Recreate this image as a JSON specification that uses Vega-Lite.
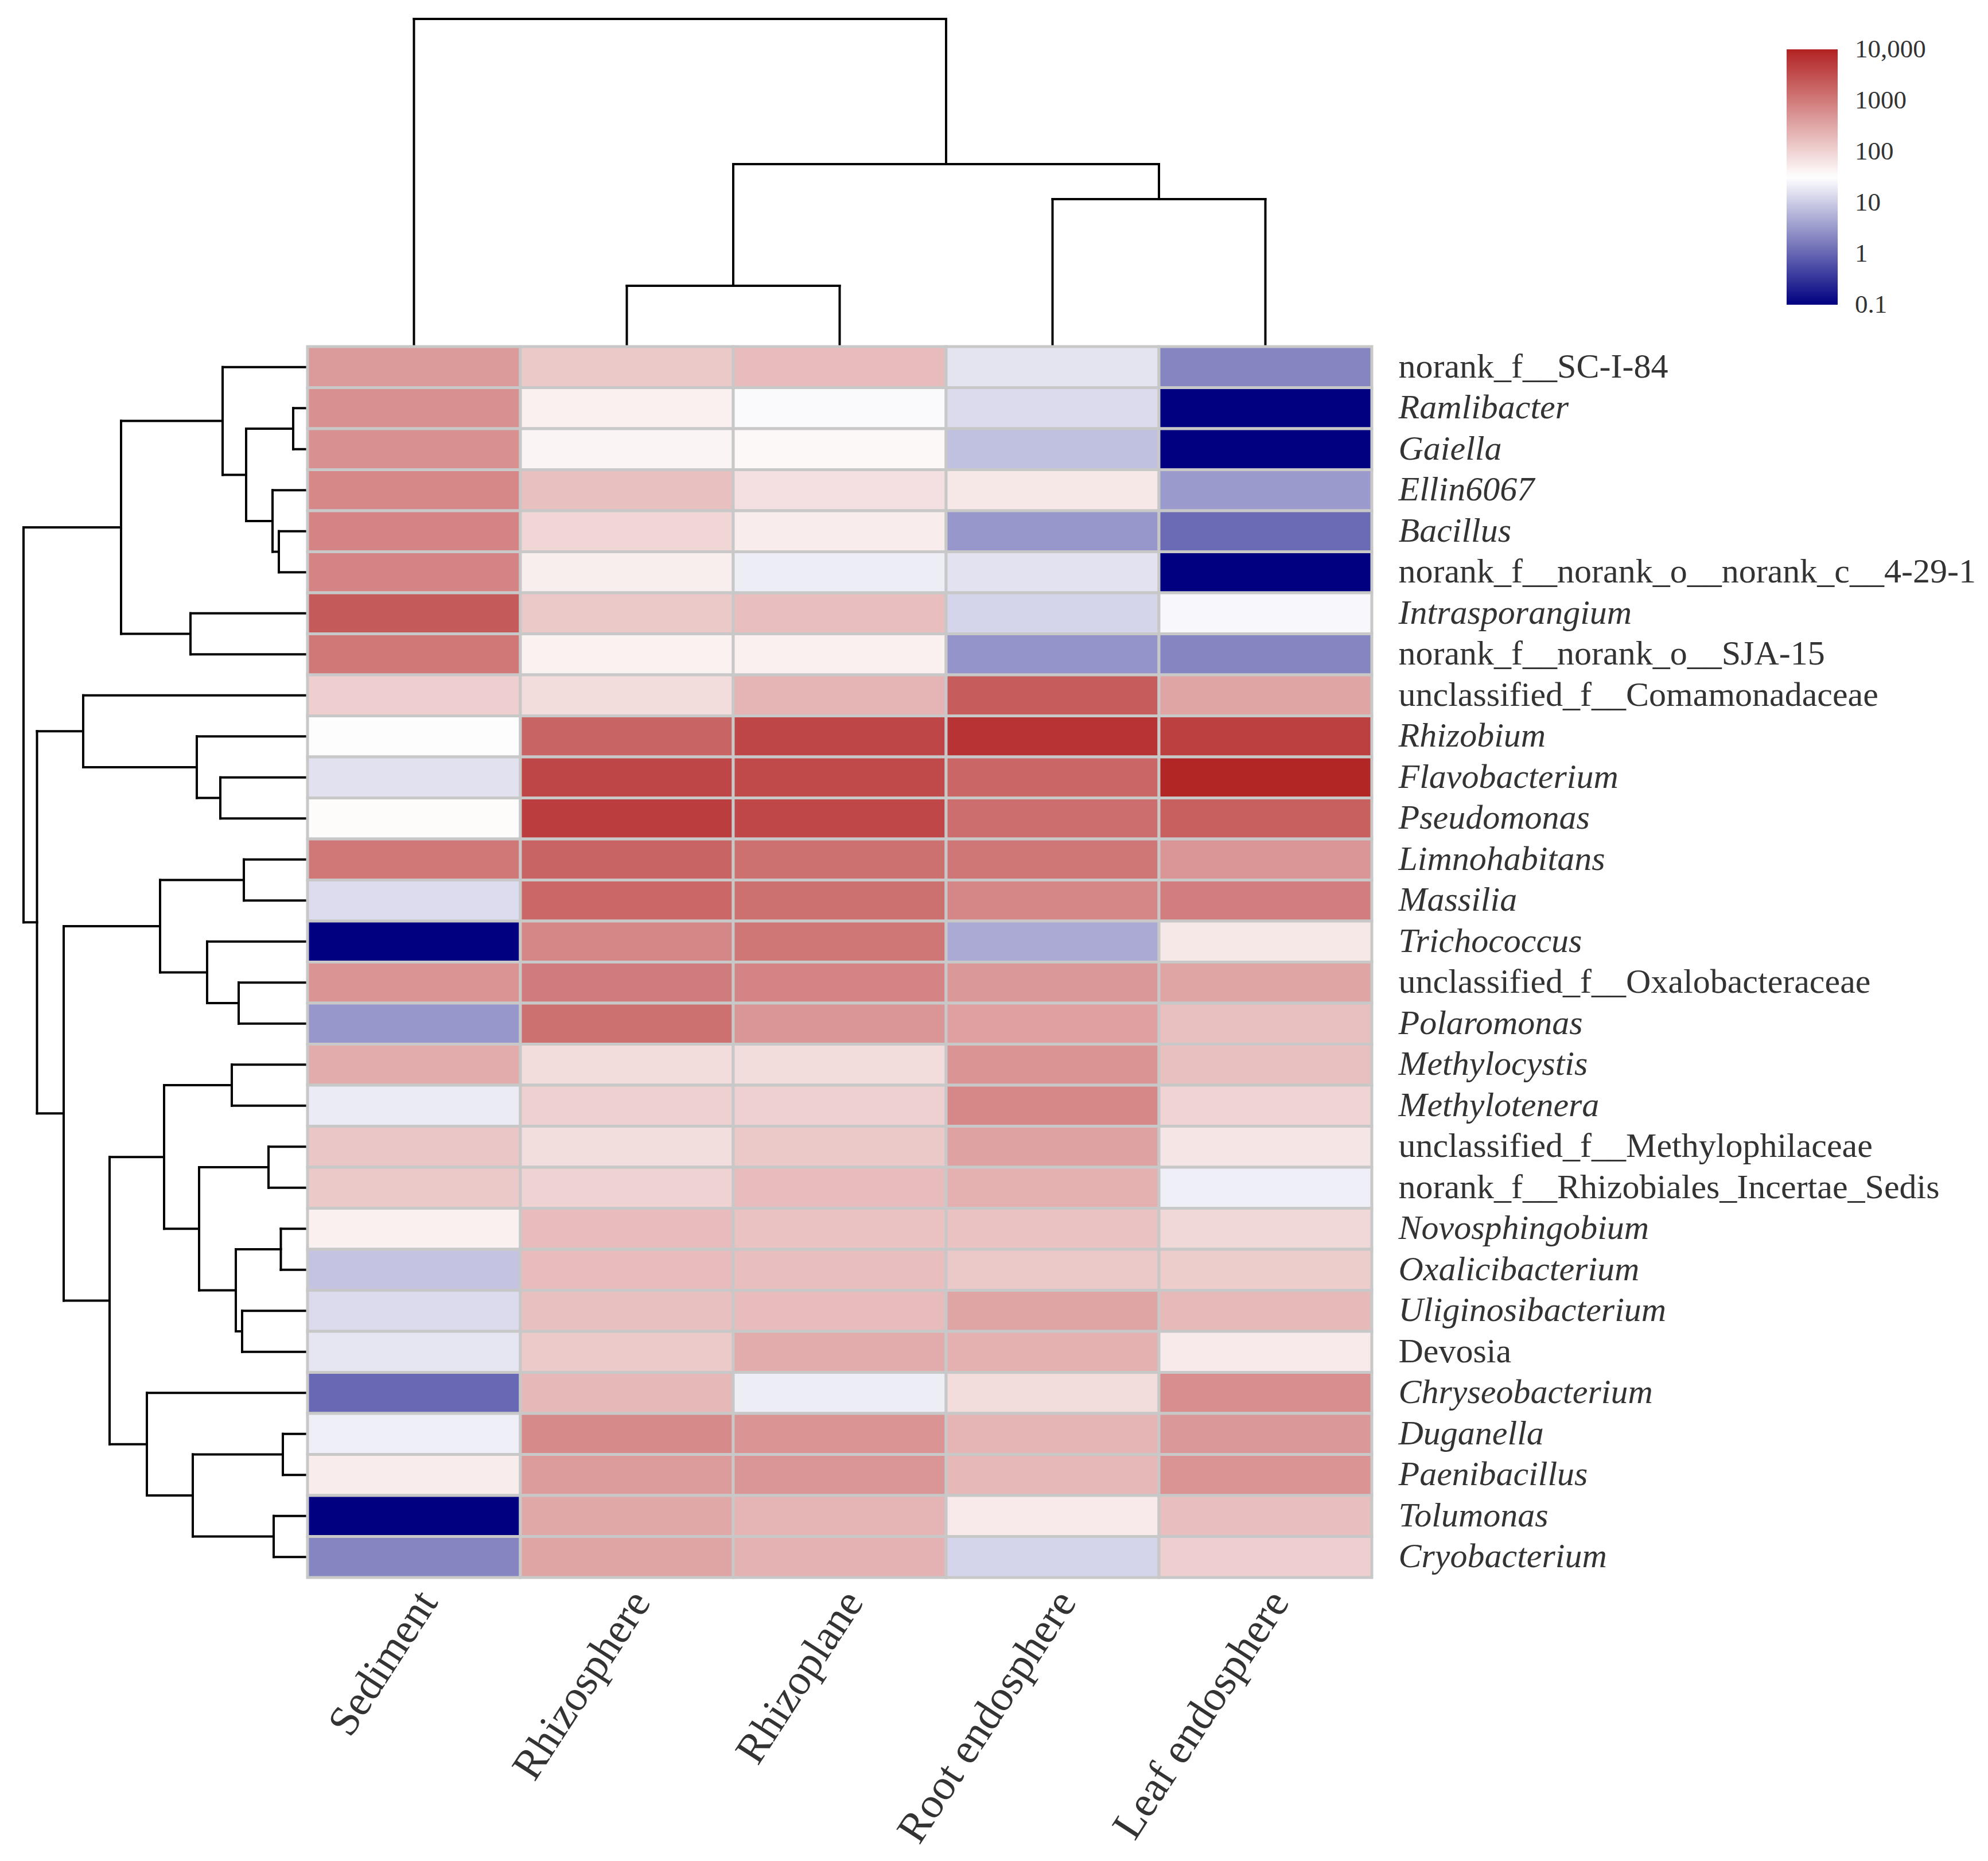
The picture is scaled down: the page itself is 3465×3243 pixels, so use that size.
{
 "$schema": "https://vega.github.io/schema/vega-lite/v6.json",
 "padding": {"left": 38, "top": 30, "right": 5, "bottom": 5},
 "background": "white",
 "config": {"view": {"stroke": null}},
 "spacing": 0,
 "columns": 2,
 "align": "each",
 "bounds": "flush",
 "datasets": {
  "topTree": [
   {"pos":0,"pos2":0,"h":0,"h2":571},
   {"pos":1,"pos2":1,"h":0,"h2":106},
   {"pos":2,"pos2":2,"h":0,"h2":106},
   {"pos":1,"pos2":2,"h":106,"h2":106},
   {"pos":3,"pos2":3,"h":0,"h2":257},
   {"pos":4,"pos2":4,"h":0,"h2":257},
   {"pos":3,"pos2":4,"h":257,"h2":257},
   {"pos":1.5,"pos2":1.5,"h":106,"h2":318},
   {"pos":3.5,"pos2":3.5,"h":257,"h2":318},
   {"pos":1.5,"pos2":3.5,"h":318,"h2":318},
   {"pos":2.5,"pos2":2.5,"h":318,"h2":571},
   {"pos":0,"pos2":2.5,"h":571,"h2":571}
  ],
  "leftTree": [
   {"h":0,"h2":25,"r":1,"r2":1},{"h":0,"h2":25,"r":2,"r2":2},{"h":25,"h2":25,"r":1,"r2":2},
   {"h":0,"h2":50,"r":4,"r2":4},{"h":0,"h2":50,"r":5,"r2":5},{"h":50,"h2":50,"r":4,"r2":5},
   {"h":0,"h2":61,"r":3,"r2":3},{"h":50,"h2":61,"r":4.5,"r2":4.5},{"h":61,"h2":61,"r":3,"r2":4.5},
   {"h":25,"h2":107,"r":1.5,"r2":1.5},{"h":61,"h2":107,"r":3.75,"r2":3.75},{"h":107,"h2":107,"r":1.5,"r2":3.75},
   {"h":0,"h2":148,"r":0,"r2":0},{"h":107,"h2":148,"r":2.625,"r2":2.625},{"h":148,"h2":148,"r":0,"r2":2.625},
   {"h":0,"h2":204,"r":6,"r2":6},{"h":0,"h2":204,"r":7,"r2":7},{"h":204,"h2":204,"r":6,"r2":7},
   {"h":148,"h2":325,"r":1.3125,"r2":1.3125},{"h":204,"h2":325,"r":6.5,"r2":6.5},{"h":325,"h2":325,"r":1.3125,"r2":6.5},
   {"h":0,"h2":152,"r":10,"r2":10},{"h":0,"h2":152,"r":11,"r2":11},{"h":152,"h2":152,"r":10,"r2":11},
   {"h":0,"h2":193,"r":9,"r2":9},{"h":152,"h2":193,"r":10.5,"r2":10.5},{"h":193,"h2":193,"r":9,"r2":10.5},
   {"h":0,"h2":391,"r":8,"r2":8},{"h":193,"h2":391,"r":9.75,"r2":9.75},{"h":391,"h2":391,"r":8,"r2":9.75},
   {"h":0,"h2":111,"r":12,"r2":12},{"h":0,"h2":111,"r":13,"r2":13},{"h":111,"h2":111,"r":12,"r2":13},
   {"h":0,"h2":120,"r":15,"r2":15},{"h":0,"h2":120,"r":16,"r2":16},{"h":120,"h2":120,"r":15,"r2":16},
   {"h":0,"h2":175,"r":14,"r2":14},{"h":120,"h2":175,"r":15.5,"r2":15.5},{"h":175,"h2":175,"r":14,"r2":15.5},
   {"h":111,"h2":257,"r":12.5,"r2":12.5},{"h":175,"h2":257,"r":14.75,"r2":14.75},{"h":257,"h2":257,"r":12.5,"r2":14.75},
   {"h":0,"h2":132,"r":17,"r2":17},{"h":0,"h2":132,"r":18,"r2":18},{"h":132,"h2":132,"r":17,"r2":18},
   {"h":0,"h2":68,"r":19,"r2":19},{"h":0,"h2":68,"r":20,"r2":20},{"h":68,"h2":68,"r":19,"r2":20},
   {"h":0,"h2":46.5,"r":21,"r2":21},{"h":0,"h2":46.5,"r":22,"r2":22},{"h":46.5,"h2":46.5,"r":21,"r2":22},
   {"h":0,"h2":114,"r":23,"r2":23},{"h":0,"h2":114,"r":24,"r2":24},{"h":114,"h2":114,"r":23,"r2":24},
   {"h":46.5,"h2":125,"r":21.5,"r2":21.5},{"h":114,"h2":125,"r":23.5,"r2":23.5},{"h":125,"h2":125,"r":21.5,"r2":23.5},
   {"h":68,"h2":189,"r":19.5,"r2":19.5},{"h":125,"h2":189,"r":22.5,"r2":22.5},{"h":189,"h2":189,"r":19.5,"r2":22.5},
   {"h":132,"h2":250,"r":17.5,"r2":17.5},{"h":189,"h2":250,"r":21,"r2":21},{"h":250,"h2":250,"r":17.5,"r2":21},
   {"h":0,"h2":43,"r":26,"r2":26},{"h":0,"h2":43,"r":27,"r2":27},{"h":43,"h2":43,"r":26,"r2":27},
   {"h":0,"h2":59,"r":28,"r2":28},{"h":0,"h2":59,"r":29,"r2":29},{"h":59,"h2":59,"r":28,"r2":29},
   {"h":43,"h2":200,"r":26.5,"r2":26.5},{"h":59,"h2":200,"r":28.5,"r2":28.5},{"h":200,"h2":200,"r":26.5,"r2":28.5},
   {"h":0,"h2":280,"r":25,"r2":25},{"h":200,"h2":280,"r":27.5,"r2":27.5},{"h":280,"h2":280,"r":25,"r2":27.5},
   {"h":250,"h2":345,"r":19.25,"r2":19.25},{"h":280,"h2":345,"r":26.25,"r2":26.25},{"h":345,"h2":345,"r":19.25,"r2":26.25},
   {"h":257,"h2":425,"r":13.625,"r2":13.625},{"h":345,"h2":425,"r":22.75,"r2":22.75},{"h":425,"h2":425,"r":13.625,"r2":22.75},
   {"h":391,"h2":471.5,"r":8.875,"r2":8.875},{"h":425,"h2":471.5,"r":18.1875,"r2":18.1875},{"h":471.5,"h2":471.5,"r":8.875,"r2":18.1875},
   {"h":325,"h2":495,"r":3.90625,"r2":3.90625},{"h":471.5,"h2":495,"r":13.53125,"r2":13.53125},{"h":495,"h2":495,"r":3.90625,"r2":13.53125}
  ],
  "cells": [
   {"taxon":"norank_f__SC-I-84","sample":"Sediment","value":430},{"taxon":"norank_f__SC-I-84","sample":"Rhizosphere","value":130},{"taxon":"norank_f__SC-I-84","sample":"Rhizoplane","value":180},{"taxon":"norank_f__SC-I-84","sample":"Root endosphere","value":17},{"taxon":"norank_f__SC-I-84","sample":"Leaf endosphere","value":2},
   {"taxon":"Ramlibacter","sample":"Sediment","value":570},{"taxon":"Ramlibacter","sample":"Rhizosphere","value":47},{"taxon":"Ramlibacter","sample":"Rhizoplane","value":28},{"taxon":"Ramlibacter","sample":"Root endosphere","value":14},{"taxon":"Ramlibacter","sample":"Leaf endosphere","value":0.1},
   {"taxon":"Gaiella","sample":"Sediment","value":570},{"taxon":"Gaiella","sample":"Rhizosphere","value":42},{"taxon":"Gaiella","sample":"Rhizoplane","value":38},{"taxon":"Gaiella","sample":"Root endosphere","value":7.6},{"taxon":"Gaiella","sample":"Leaf endosphere","value":0.1},
   {"taxon":"Ellin6067","sample":"Sediment","value":700},{"taxon":"Ellin6067","sample":"Rhizosphere","value":163},{"taxon":"Ellin6067","sample":"Rhizoplane","value":70},{"taxon":"Ellin6067","sample":"Root endosphere","value":58},{"taxon":"Ellin6067","sample":"Leaf endosphere","value":3.2},
   {"taxon":"Bacillus","sample":"Sediment","value":780},{"taxon":"Bacillus","sample":"Rhizosphere","value":92},{"taxon":"Bacillus","sample":"Rhizoplane","value":52},{"taxon":"Bacillus","sample":"Root endosphere","value":3},{"taxon":"Bacillus","sample":"Leaf endosphere","value":1.1},
   {"taxon":"norank_f__norank_o__norank_c__4-29-1","sample":"Sediment","value":780},{"taxon":"norank_f__norank_o__norank_c__4-29-1","sample":"Rhizosphere","value":49},{"taxon":"norank_f__norank_o__norank_c__4-29-1","sample":"Rhizoplane","value":21},{"taxon":"norank_f__norank_o__norank_c__4-29-1","sample":"Root endosphere","value":16.5},{"taxon":"norank_f__norank_o__norank_c__4-29-1","sample":"Leaf endosphere","value":0.1},
   {"taxon":"Intrasporangium","sample":"Sediment","value":2340},{"taxon":"Intrasporangium","sample":"Rhizosphere","value":130},{"taxon":"Intrasporangium","sample":"Rhizoplane","value":171},{"taxon":"Intrasporangium","sample":"Root endosphere","value":12},{"taxon":"Intrasporangium","sample":"Leaf endosphere","value":27},
   {"taxon":"norank_f__norank_o__SJA-15","sample":"Sediment","value":1070},{"taxon":"norank_f__norank_o__SJA-15","sample":"Rhizosphere","value":45},{"taxon":"norank_f__norank_o__SJA-15","sample":"Rhizoplane","value":47},{"taxon":"norank_f__norank_o__SJA-15","sample":"Root endosphere","value":2.8},{"taxon":"norank_f__norank_o__SJA-15","sample":"Leaf endosphere","value":2},
   {"taxon":"unclassified_f__Comamonadaceae","sample":"Sediment","value":113},{"taxon":"unclassified_f__Comamonadaceae","sample":"Rhizosphere","value":79},{"taxon":"unclassified_f__Comamonadaceae","sample":"Rhizoplane","value":224},{"taxon":"unclassified_f__Comamonadaceae","sample":"Root endosphere","value":2200},{"taxon":"unclassified_f__Comamonadaceae","sample":"Leaf endosphere","value":340},
   {"taxon":"Rhizobium","sample":"Sediment","value":33},{"taxon":"Rhizobium","sample":"Rhizosphere","value":1780},{"taxon":"Rhizobium","sample":"Rhizoplane","value":3900},{"taxon":"Rhizobium","sample":"Root endosphere","value":6300},{"taxon":"Rhizobium","sample":"Leaf endosphere","value":4570},
   {"taxon":"Flavobacterium","sample":"Sediment","value":16},{"taxon":"Flavobacterium","sample":"Rhizosphere","value":3900},{"taxon":"Flavobacterium","sample":"Rhizoplane","value":3500},{"taxon":"Flavobacterium","sample":"Root endosphere","value":1700},{"taxon":"Flavobacterium","sample":"Leaf endosphere","value":9000},
   {"taxon":"Pseudomonas","sample":"Sediment","value":35},{"taxon":"Pseudomonas","sample":"Rhizosphere","value":5000},{"taxon":"Pseudomonas","sample":"Rhizoplane","value":3800},{"taxon":"Pseudomonas","sample":"Root endosphere","value":1380},{"taxon":"Pseudomonas","sample":"Leaf endosphere","value":2000},
   {"taxon":"Limnohabitans","sample":"Sediment","value":1070},{"taxon":"Limnohabitans","sample":"Rhizosphere","value":1780},{"taxon":"Limnohabitans","sample":"Rhizoplane","value":1310},{"taxon":"Limnohabitans","sample":"Root endosphere","value":1120},{"taxon":"Limnohabitans","sample":"Leaf endosphere","value":490},
   {"taxon":"Massilia","sample":"Sediment","value":14.5},{"taxon":"Massilia","sample":"Rhizosphere","value":1620},{"taxon":"Massilia","sample":"Rhizoplane","value":1310},{"taxon":"Massilia","sample":"Root endosphere","value":740},{"taxon":"Massilia","sample":"Leaf endosphere","value":910},
   {"taxon":"Trichococcus","sample":"Sediment","value":0.1},{"taxon":"Trichococcus","sample":"Rhizosphere","value":740},{"taxon":"Trichococcus","sample":"Rhizoplane","value":1120},{"taxon":"Trichococcus","sample":"Root endosphere","value":4.6},{"taxon":"Trichococcus","sample":"Leaf endosphere","value":58},
   {"taxon":"unclassified_f__Oxalobacteraceae","sample":"Sediment","value":510},{"taxon":"unclassified_f__Oxalobacteraceae","sample":"Rhizosphere","value":960},{"taxon":"unclassified_f__Oxalobacteraceae","sample":"Rhizoplane","value":780},{"taxon":"unclassified_f__Oxalobacteraceae","sample":"Root endosphere","value":460},{"taxon":"unclassified_f__Oxalobacteraceae","sample":"Leaf endosphere","value":340},
   {"taxon":"Polaromonas","sample":"Sediment","value":3},{"taxon":"Polaromonas","sample":"Rhizosphere","value":1310},{"taxon":"Polaromonas","sample":"Rhizoplane","value":490},{"taxon":"Polaromonas","sample":"Root endosphere","value":375},{"taxon":"Polaromonas","sample":"Leaf endosphere","value":163},
   {"taxon":"Methylocystis","sample":"Sediment","value":273},{"taxon":"Methylocystis","sample":"Rhizosphere","value":79},{"taxon":"Methylocystis","sample":"Rhizoplane","value":79},{"taxon":"Methylocystis","sample":"Root endosphere","value":510},{"taxon":"Methylocystis","sample":"Leaf endosphere","value":163},
   {"taxon":"Methylotenera","sample":"Sediment","value":20},{"taxon":"Methylotenera","sample":"Rhizosphere","value":107},{"taxon":"Methylotenera","sample":"Rhizoplane","value":107},{"taxon":"Methylotenera","sample":"Root endosphere","value":700},{"taxon":"Methylotenera","sample":"Leaf endosphere","value":97},
   {"taxon":"unclassified_f__Methylophilaceae","sample":"Sediment","value":140},{"taxon":"unclassified_f__Methylophilaceae","sample":"Rhizosphere","value":75},{"taxon":"unclassified_f__Methylophilaceae","sample":"Rhizoplane","value":130},{"taxon":"unclassified_f__Methylophilaceae","sample":"Root endosphere","value":355},{"taxon":"unclassified_f__Methylophilaceae","sample":"Leaf endosphere","value":63},
   {"taxon":"norank_f__Rhizobiales_Incertae_Sedis","sample":"Sediment","value":130},{"taxon":"norank_f__Rhizobiales_Incertae_Sedis","sample":"Rhizosphere","value":102},{"taxon":"norank_f__Rhizobiales_Incertae_Sedis","sample":"Rhizoplane","value":180},{"taxon":"norank_f__Rhizobiales_Incertae_Sedis","sample":"Root endosphere","value":246},{"taxon":"norank_f__Rhizobiales_Incertae_Sedis","sample":"Leaf endosphere","value":22},
   {"taxon":"Novosphingobium","sample":"Sediment","value":47},{"taxon":"Novosphingobium","sample":"Rhizosphere","value":180},{"taxon":"Novosphingobium","sample":"Rhizoplane","value":155},{"taxon":"Novosphingobium","sample":"Root endosphere","value":155},{"taxon":"Novosphingobium","sample":"Leaf endosphere","value":88},
   {"taxon":"Oxalicibacterium","sample":"Sediment","value":8.4},{"taxon":"Oxalicibacterium","sample":"Rhizosphere","value":180},{"taxon":"Oxalicibacterium","sample":"Rhizoplane","value":171},{"taxon":"Oxalicibacterium","sample":"Root endosphere","value":130},{"taxon":"Oxalicibacterium","sample":"Leaf endosphere","value":120},
   {"taxon":"Uliginosibacterium","sample":"Sediment","value":14},{"taxon":"Uliginosibacterium","sample":"Rhizosphere","value":163},{"taxon":"Uliginosibacterium","sample":"Rhizoplane","value":180},{"taxon":"Uliginosibacterium","sample":"Root endosphere","value":340},{"taxon":"Uliginosibacterium","sample":"Leaf endosphere","value":190},
   {"taxon":"Devosia","sample":"Sediment","value":18},{"taxon":"Devosia","sample":"Rhizosphere","value":125},{"taxon":"Devosia","sample":"Rhizoplane","value":273},{"taxon":"Devosia","sample":"Root endosphere","value":246},{"taxon":"Devosia","sample":"Leaf endosphere","value":55},
   {"taxon":"Chryseobacterium","sample":"Sediment","value":1.05},{"taxon":"Chryseobacterium","sample":"Rhizosphere","value":200},{"taxon":"Chryseobacterium","sample":"Rhizoplane","value":21},{"taxon":"Chryseobacterium","sample":"Root endosphere","value":79},{"taxon":"Chryseobacterium","sample":"Leaf endosphere","value":600},
   {"taxon":"Duganella","sample":"Sediment","value":22},{"taxon":"Duganella","sample":"Rhizosphere","value":665},{"taxon":"Duganella","sample":"Rhizoplane","value":510},{"taxon":"Duganella","sample":"Root endosphere","value":224},{"taxon":"Duganella","sample":"Leaf endosphere","value":460},
   {"taxon":"Paenibacillus","sample":"Sediment","value":52},{"taxon":"Paenibacillus","sample":"Rhizosphere","value":417},{"taxon":"Paenibacillus","sample":"Rhizoplane","value":490},{"taxon":"Paenibacillus","sample":"Root endosphere","value":200},{"taxon":"Paenibacillus","sample":"Leaf endosphere","value":510},
   {"taxon":"Tolumonas","sample":"Sediment","value":0.1},{"taxon":"Tolumonas","sample":"Rhizosphere","value":305},{"taxon":"Tolumonas","sample":"Rhizoplane","value":224},{"taxon":"Tolumonas","sample":"Root endosphere","value":55},{"taxon":"Tolumonas","sample":"Leaf endosphere","value":171},
   {"taxon":"Cryobacterium","sample":"Sediment","value":2},{"taxon":"Cryobacterium","sample":"Rhizosphere","value":340},{"taxon":"Cryobacterium","sample":"Rhizoplane","value":235},{"taxon":"Cryobacterium","sample":"Root endosphere","value":12},{"taxon":"Cryobacterium","sample":"Leaf endosphere","value":113}
  ]
 },
 "concat": [
  {
   "width": 496, "height": 571,
   "data": {"values": [{}]},
   "mark": {"type": "text"},
   "encoding": {"text": {"value": ""}}
  },
  {
   "width": 1855, "height": 571,
   "data": {"name": "topTree"},
   "mark": {"type": "rule", "stroke": "black", "strokeWidth": 4, "strokeCap": "square"},
   "encoding": {
    "x": {"field": "pos", "type": "quantitative", "scale": {"domain": [-0.5, 4.5], "nice": false, "zero": false}, "axis": null},
    "x2": {"field": "pos2"},
    "y": {"field": "h", "type": "quantitative", "scale": {"domain": [0, 571], "nice": false, "zero": false}, "axis": null},
    "y2": {"field": "h2"}
   }
  },
  {
   "width": 496, "height": 2145,
   "data": {"name": "leftTree"},
   "mark": {"type": "rule", "stroke": "black", "strokeWidth": 4, "strokeCap": "square"},
   "encoding": {
    "x": {"field": "h", "type": "quantitative", "scale": {"domain": [0, 496], "nice": false, "zero": false, "reverse": true}, "axis": null},
    "x2": {"field": "h2"},
    "y": {"field": "r", "type": "quantitative", "scale": {"domain": [-0.5, 29.5], "nice": false, "zero": false, "reverse": true}, "axis": null},
    "y2": {"field": "r2"}
   }
  },
  {
   "width": 1855, "height": 2145,
   "data": {"name": "cells"},
   "mark": {"type": "rect", "stroke": "#C8C8C8", "strokeWidth": 5},
   "encoding": {
    "x": {"field": "sample", "type": "nominal",
     "sort": ["Sediment", "Rhizosphere", "Rhizoplane", "Root endosphere", "Leaf endosphere"],
     "axis": {"title": null, "orient": "bottom", "labelAngle": -57, "labelAlign": "right", "labelBaseline": "middle", "labelPadding": 30, "labelOffset": 24, "labelFont": "Liberation Serif", "labelFontSize": 75, "labelColor": "#333333", "ticks": false, "domain": false, "labelLimit": 2000}},
    "y": {"field": "taxon", "type": "nominal",
     "sort": ["norank_f__SC-I-84", "Ramlibacter", "Gaiella", "Ellin6067", "Bacillus", "norank_f__norank_o__norank_c__4-29-1", "Intrasporangium", "norank_f__norank_o__SJA-15", "unclassified_f__Comamonadaceae", "Rhizobium", "Flavobacterium", "Pseudomonas", "Limnohabitans", "Massilia", "Trichococcus", "unclassified_f__Oxalobacteraceae", "Polaromonas", "Methylocystis", "Methylotenera", "unclassified_f__Methylophilaceae", "norank_f__Rhizobiales_Incertae_Sedis", "Novosphingobium", "Oxalicibacterium", "Uliginosibacterium", "Devosia", "Chryseobacterium", "Duganella", "Paenibacillus", "Tolumonas", "Cryobacterium"],
     "axis": {"title": null, "orient": "right", "labelPadding": 46, "labelFont": "Liberation Serif", "labelFontSize": 60, "labelColor": "#333333", "ticks": false, "domain": false, "labelLimit": 3000,
      "labelFontStyle": {"condition": {"test": "indexof(datum.value, 'norank') == 0 || indexof(datum.value, 'unclassified') == 0 || datum.value == 'Devosia'", "value": "normal"}, "value": "italic"}}},
    "color": {"field": "value", "type": "quantitative",
     "scale": {"type": "log", "domain": [0.1, 31.62, 10000], "range": ["#000080", "#FFFFFF", "#B22222"], "interpolate": "rgb"},
     "legend": {"title": null, "orient": "none", "legendX": 3074, "legendY": 53, "direction": "vertical", "gradientLength": 445, "gradientThickness": 89, "gradientStrokeWidth": 0, "values": [0.1, 1, 10, 100, 1000, 10000], "labelExpr": "datum.value >= 10000 ? '10,000' : toString(datum.value)", "labelFont": "Liberation Serif", "labelFontSize": 45, "labelColor": "#333333", "labelOffset": 30, "labelBaseline": "middle", "labelLimit": 400,
      "encode": {"labels": {"update": {"baseline": {"value": "middle"}}}}}}
   }
  }
 ]
}
